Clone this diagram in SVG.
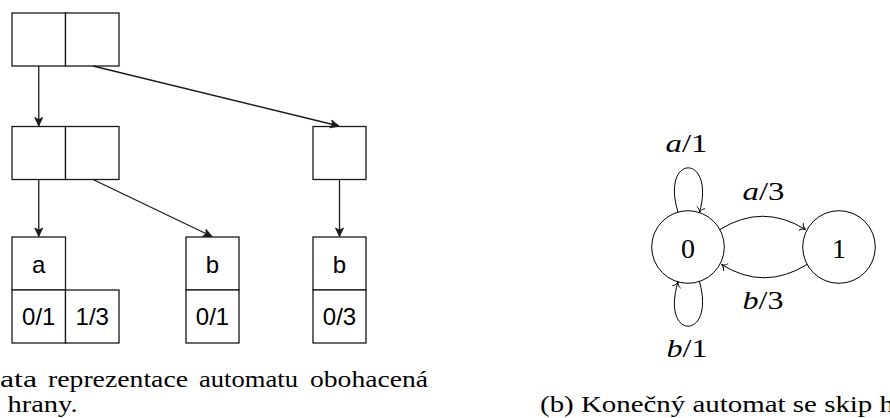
<svg xmlns="http://www.w3.org/2000/svg" width="890" height="418" viewBox="0 0 890 418">
  <style>
    .cell { fill: #fff; stroke: #1a1a1a; stroke-width: 1.3; }
    .tree { fill: none; stroke: #1a1a1a; stroke-width: 1.3; }
    .lbl { font-family: "Liberation Sans", Arial, sans-serif; font-size: 24px; fill: #000; text-anchor: middle; }
    .state { fill: #fff; stroke: #000; stroke-width: 1; }
    .edge { fill: none; stroke: #000; stroke-width: 1; }
    .math { font-family: "Liberation Serif", "Times New Roman", serif; font-size: 26px; fill: #000; text-anchor: middle; }
    .node { font-family: "Liberation Serif", "Times New Roman", serif; font-size: 28px; fill: #000; text-anchor: middle; }
    .it { font-style: italic; }
    .cap { font-family: "Liberation Serif", "Times New Roman", serif; font-size: 23px; fill: #000; }
  </style>
  <defs>
    <marker id="solid" markerUnits="userSpaceOnUse" markerWidth="12" markerHeight="12" viewBox="-10 -6 12 12" refX="0" refY="0" orient="auto">
      <path d="M0,0 L-8.5,-4 L-6.5,0 L-8.5,4 Z" fill="#1a1a1a" stroke="#1a1a1a" stroke-width="0.8" stroke-linejoin="miter"/>
    </marker>
    <marker id="to" markerUnits="userSpaceOnUse" markerWidth="12" markerHeight="12" viewBox="-8 -6 10 12" refX="0" refY="0" orient="auto">
      <path d="M-5,-4 C-4.2,-1.6 -1.8,-0.4 0,0 C-1.8,0.4 -4.2,1.6 -5,4" fill="none" stroke="#000" stroke-width="0.9" stroke-linecap="round"/>
    </marker>
  </defs>

  <!-- tree of arrays -->
  <g id="root">
    <rect class="cell" x="12" y="13" width="53.5" height="53"/>
    <rect class="cell" x="65.5" y="13" width="53.5" height="53"/>
  </g>
  <g id="inner-left">
    <rect class="cell" x="12" y="126.5" width="53.5" height="53"/>
    <rect class="cell" x="65.5" y="126.5" width="53.5" height="53"/>
  </g>
  <g id="inner-right">
    <rect class="cell" x="313" y="126.5" width="53" height="53"/>
  </g>
  <g id="leaf-a">
    <rect class="cell" x="12" y="237" width="53.5" height="53"/>
    <rect class="cell" x="12" y="290" width="53.5" height="53"/>
    <rect class="cell" x="65.5" y="290" width="53.5" height="53"/>
    <text class="lbl" x="38.75" y="273">a</text>
    <text class="lbl" x="38.75" y="325">0/1</text>
    <text class="lbl" x="92.25" y="325">1/3</text>
  </g>
  <g id="leaf-b1">
    <rect class="cell" x="186" y="237" width="53" height="53"/>
    <rect class="cell" x="186" y="290" width="53" height="53"/>
    <text class="lbl" x="212.5" y="273">b</text>
    <text class="lbl" x="212.5" y="325">0/1</text>
  </g>
  <g id="leaf-b2">
    <rect class="cell" x="313" y="237" width="53" height="53"/>
    <rect class="cell" x="313" y="290" width="53" height="53"/>
    <text class="lbl" x="339.5" y="273">b</text>
    <text class="lbl" x="339.5" y="325">0/3</text>
  </g>

  <g id="tree-links">
    <path class="tree" d="M38.75,66 L38.75,126" marker-end="url(#solid)"/>
    <path class="tree" d="M93,66 L339,126" marker-end="url(#solid)"/>
    <path class="tree" d="M38.75,179.5 L38.75,236.5" marker-end="url(#solid)"/>
    <path class="tree" d="M93,179.5 L212,236.5" marker-end="url(#solid)"/>
    <path class="tree" d="M339.5,179.5 L339.5,236.5" marker-end="url(#solid)"/>
  </g>

  <!-- automaton -->
  <g id="state-0">
    <circle class="state" cx="688" cy="247" r="36.3"/>
    <text class="node" x="688" y="257.5">0</text>
  </g>
  <g id="state-1">
    <circle class="state" cx="839" cy="247" r="36.3"/>
    <text class="node" x="839" y="257.5">1</text>
  </g>

  <g id="transitions">
    <path class="edge" d="M678,212.3 C660,153 716,153 699.5,212.5" marker-end="url(#to)"/>
    <path class="edge" d="M699.5,281.7 C716,341 660,341 678,282" marker-end="url(#to)"/>
    <path class="edge" d="M720,229.5 Q762.5,203 805.5,229.5" marker-end="url(#to)"/>
    <path class="edge" d="M807,264.5 Q764,291 721.5,264.5" marker-end="url(#to)"/>
  </g>

  <g id="transition-labels">
    <text class="math" x="686.5" y="151.5" textLength="42" lengthAdjust="spacingAndGlyphs"><tspan class="it">a</tspan>/1</text>
    <text class="math" x="763.5" y="200" textLength="42" lengthAdjust="spacingAndGlyphs"><tspan class="it">a</tspan>/3</text>
    <text class="math" x="763" y="309" textLength="41" lengthAdjust="spacingAndGlyphs"><tspan class="it">b</tspan>/3</text>
    <text class="math" x="687" y="357" textLength="41" lengthAdjust="spacingAndGlyphs"><tspan class="it">b</tspan>/1</text>
  </g>

  <!-- captions: words placed individually to keep the typeset spacing -->
  <g id="captions">
    <text class="cap" y="387"><tspan x="0" textLength="37" lengthAdjust="spacingAndGlyphs">ata</tspan><tspan x="48" textLength="140" lengthAdjust="spacingAndGlyphs">reprezentace</tspan><tspan x="199" textLength="99" lengthAdjust="spacingAndGlyphs">automatu</tspan><tspan x="310" textLength="118" lengthAdjust="spacingAndGlyphs">obohacená</tspan></text>
    <text class="cap" x="7.5" y="412" textLength="70" lengthAdjust="spacingAndGlyphs">hrany.</text>
    <text class="cap" x="540" y="412" textLength="354" lengthAdjust="spacingAndGlyphs">(b) Konečný automat se skip h</text>
  </g>
</svg>
